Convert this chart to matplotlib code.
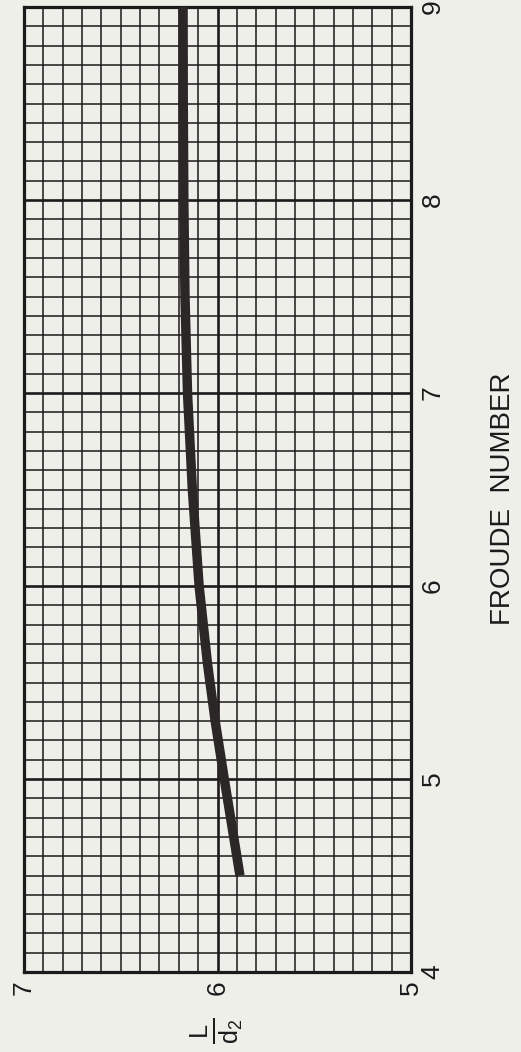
"""
Hydraulic jump length chart: L/d2 against Froude number,
drawn turned on its side like the printed graph-paper original.
"""

import matplotlib
matplotlib.use("Agg")

import matplotlib.pyplot as plt
import matplotlib.ticker as mticker

# ── Data ─────────────────────────────────────────────────────────────────────
FROUDE = [4.5, 5.0, 5.3, 5.6, 6.0, 6.5, 7.0, 7.5, 8.0, 8.5, 9.0]
L_D2 = [5.884, 5.965, 6.012, 6.052, 6.095, 6.130, 6.155, 6.168, 6.174, 6.177, 6.178]

FROUDE_TICKS = [4, 5, 6, 7, 8, 9]
LD2_TICKS = [5, 6, 7]

# ── Style ────────────────────────────────────────────────────────────────────
PAPER = "#efefea"
INK = "#1c1a1a"
CURVE = "#2b2727"

plt.rcParams["font.family"] = ["Liberation Sans", "DejaVu Sans"]
plt.rcParams["mathtext.fontset"] = "custom"
plt.rcParams["mathtext.rm"] = "Liberation Sans"
plt.rcParams["mathtext.it"] = "Liberation Sans"

fig = plt.figure(figsize=(5.21, 10.52), dpi=100, facecolor=PAPER)
ax = fig.add_axes([24 / 521, 80 / 1052, 387 / 521, 965 / 1052])
ax.set_facecolor(PAPER)

# rotated page: L/d2 runs right-to-left, Froude runs bottom-to-top
ax.set_xlim(7, 5)
ax.set_ylim(4, 9)

ax.plot(L_D2, FROUDE, color=CURVE, linewidth=6.8,
        solid_capstyle="butt", solid_joinstyle="round", zorder=3)

# graph paper grid
ax.xaxis.set_major_locator(mticker.FixedLocator(LD2_TICKS))
ax.yaxis.set_major_locator(mticker.FixedLocator(FROUDE_TICKS))
ax.xaxis.set_minor_locator(mticker.MultipleLocator(0.1))
ax.yaxis.set_minor_locator(mticker.MultipleLocator(0.1))
ax.grid(True, which="minor", color=INK, linewidth=1.1, zorder=1)
ax.grid(True, which="major", color=INK, linewidth=1.9, zorder=2)
ax.set_axisbelow(True)

for sp in ax.spines.values():
    sp.set_color(INK)
    sp.set_linewidth(2.3)

ax.yaxis.tick_right()
ax.tick_params(which="both", length=0)
ax.tick_params(axis="x", pad=6, labelsize=19, labelcolor=INK)
ax.tick_params(axis="y", pad=7, labelsize=19, labelcolor=INK)
ax.set_xticklabels([str(v) for v in LD2_TICKS], rotation=90, va="top", ha="center")
ax.set_yticklabels([str(v) for v in FROUDE_TICKS], rotation=90, va="center", ha="left")

fig.text(503 / 521, 1 - 499 / 1052, "FROUDE  NUMBER", rotation=90,
         ha="center", va="center", fontsize=20, color=INK)
fig.text(217 / 521, 1 - 1031 / 1052, r"$\frac{L}{d_2}$", rotation=90,
         ha="center", va="center", fontsize=26, color=INK)

fig.savefig("out.png", dpi=100, facecolor=PAPER)
plt.close(fig)
